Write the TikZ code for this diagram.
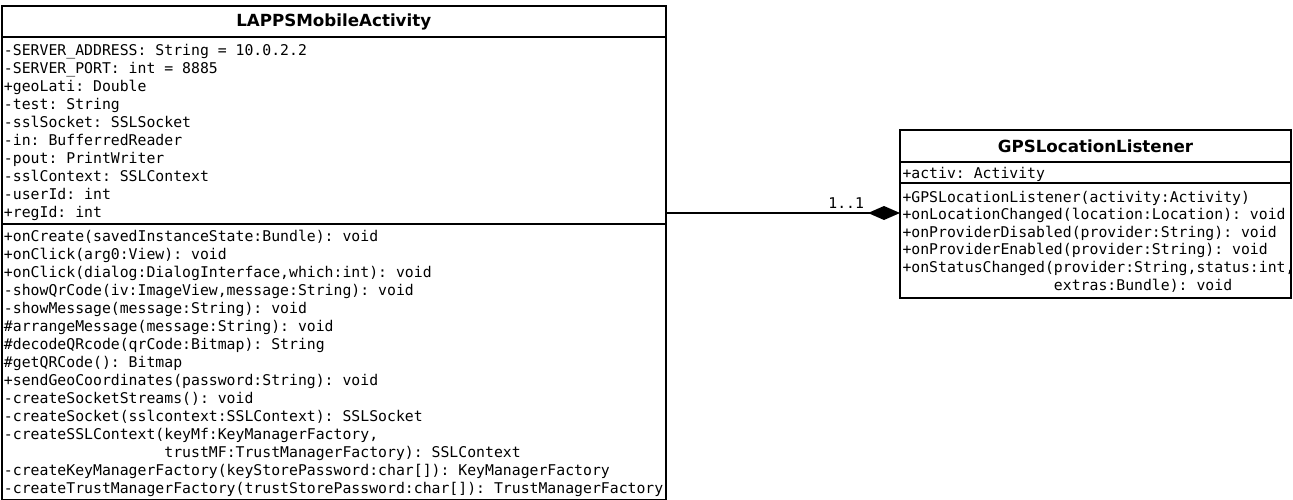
\documentclass[tikz,border=0pt]{standalone}
\usepackage{fontspec}
\setmainfont{DejaVu Sans}
\setsansfont{DejaVu Sans}
\setmonofont{DejaVu Sans Mono}
\usetikzlibrary{positioning,arrows.meta}

\begin{document}
\begin{tikzpicture}[x=1pt,y=-1pt,line width=2pt,node distance=0pt,
    classbox/.style={draw,rectangle,inner sep=0pt,outer sep=0pt,anchor=north west},
    classname/.style={font={\fontsize{16.7}{20}\selectfont\sffamily\bfseries}},
    members/.style={inner sep=0pt,align=left,font={\fontsize{14.8}{#1}\selectfont\ttfamily}},
    members/.default=18]
  \useasboundingbox (0,0) rectangle (1293,500);

  % LAPPSMobileActivity
  \node[classbox,minimum width=664.5pt,minimum height=31pt] (act) at (1.5,6.5) {};
  \node[classbox,minimum width=664.5pt,minimum height=186pt,below=of act] (actattr) {};
  \node[classbox,minimum width=664.5pt,minimum height=276pt,below=of actattr] (actops) {};
  \node[classname] (actname) at (act) {LAPPSMobileActivity};
  \node[members,below right=4.5pt and 1.5pt of actattr.north west] (actattrtext)
    {\strut-SERVER\_ADDRESS: String = 10.0.2.2\\
     -SERVER\_PORT: int = 8885\\
     +geoLati: Double\\
     -test: String\\
     -sslSocket: SSLSocket\\
     -in: BufferredReader\\
     -pout: PrintWriter\\
     -sslContext: SSLContext\\
     -userId: int\\
     +regId: int};
  \node[members,below right=4.5pt and 1.5pt of actops.north west] (actopstext)
    {\strut+onCreate(savedInstanceState:Bundle): void\\
     +onClick(arg0:View): void\\
     +onClick(dialog:DialogInterface,which:int): void\\
     -showQrCode(iv:ImageView,message:String): void\\
     -showMessage(message:String): void\\
     \#arrangeMessage(message:String): void\\
     \#decodeQRcode(qrCode:Bitmap): String\\
     \#getQRCode(): Bitmap\\
     +sendGeoCoordinates(password:String): void\\
     -createSocketStreams(): void\\
     -createSocket(sslcontext:SSLContext): SSLSocket\\
     -createSSLContext(keyMf:KeyManagerFactory,\\
     \hphantom{-createSSLContext(}trustMF:TrustManagerFactory): SSLContext\\
     -createKeyManagerFactory(keyStorePassword:char[]): KeyManagerFactory\\
     -createTrustManagerFactory(trustStorePassword:char[]): TrustManagerFactory};

  % GPSLocationListener
  \node[classbox,minimum width=391pt,minimum height=32pt] (gps) at (900,130) {};
  \node[classbox,minimum width=391pt,minimum height=21pt,below=of gps] (gpsattr) {};
  \node[classbox,minimum width=391pt,minimum height=115pt,below=of gpsattr] (gpsops) {};
  \node[classname] (gpsname) at (gps) {GPSLocationListener};
  \node[members=17.6,below right=2.7pt and 1.5pt of gpsattr.north west] (gpsattrtext)
    {\strut+activ: Activity};
  \node[members=17.6,below right=5.7pt and 1.5pt of gpsops.north west] (gpsopstext)
    {\strut+GPSLocationListener(activity:Activity)\\
     +onLocationChanged(location:Location): void\\
     +onProviderDisabled(provider:String): void\\
     +onProviderEnabled(provider:String): void\\
     +onStatusChanged(provider:String,status:int,\\
     \hphantom{+onStatusChanged(}extras:Bundle): void};

  % composition
  \coordinate[below=30pt of gpsops.north west] (gpsport);
  \draw[-{Diamond[length=32pt,width=14pt]}] (gpsport -| actattr.east) --
    node[pos=0.77,above,font={\fontsize{14.8}{18}\selectfont\ttfamily}] (mult) {1..1} (gpsport);
\end{tikzpicture}
\end{document}
